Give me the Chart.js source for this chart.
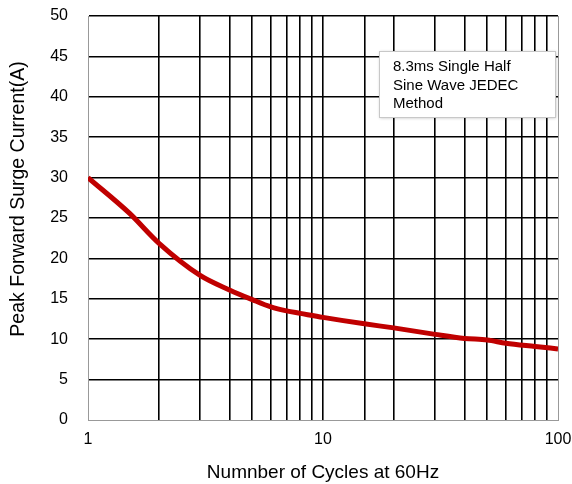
<!DOCTYPE html>
<html>
<head>
<meta charset="utf-8">
<script src="https://cdn.jsdelivr.net/npm/chart.js@4/dist/chart.umd.min.js"></script>
<style>
html,body{margin:0;padding:0;background:#fff;}
#wrap{width:572px;height:484px;}
</style>
</head>
<body>
<div id="wrap"><canvas id="c" width="572" height="484"></canvas></div>
<script>
const cycles = [1, 1.5, 2, 3, 4, 5, 6, 7, 8, 10, 15, 20, 30, 40, 50, 60, 80, 100];
const surge  = [30, 25.6, 21.9, 17.9, 16.1, 14.9, 14.0, 13.5, 13.2, 12.7, 11.9, 11.4, 10.6, 10.1, 9.9, 9.5, 9.1, 8.8];
const yTicks = [0, 5, 10, 15, 20, 25, 30, 35, 40, 45, 50];
const xLabelTicks = [1, 10, 100];
const noteLines = ['8.3ms Single Half', 'Sine Wave JEDEC', 'Method'];
const xTitle = 'Numnber of Cycles at 60Hz';
const yTitle = 'Peak Forward Surge Current(A)';

const FONT = "'Liberation Sans', Arial, sans-serif";

const notePlugin = {
  id: 'note',
  afterDraw(chart) {
    const ctx = chart.ctx;
    const a = chart.chartArea;
    // y-axis title (drawn by hand: the original sits slightly above the plot centre)
    ctx.save();
    ctx.translate(19, (a.top + a.bottom) / 2 - 19);
    ctx.rotate(-Math.PI / 2);
    ctx.fillStyle = '#000';
    ctx.font = '19.5px ' + FONT;
    ctx.textAlign = 'center';
    ctx.textBaseline = 'middle';
    ctx.fillText(yTitle, 0, 0);
    ctx.restore();

    const x = a.right - 179, y = a.top + 35, w = 176, h = 66;
    ctx.save();
    ctx.shadowColor = 'rgba(0,0,0,0.25)';
    ctx.shadowBlur = 3;
    ctx.shadowOffsetX = 1;
    ctx.shadowOffsetY = 1;
    ctx.fillStyle = '#fff';
    ctx.fillRect(x, y, w, h);
    ctx.restore();
    ctx.save();
    ctx.strokeStyle = '#c8c8c8';
    ctx.lineWidth = 1;
    ctx.strokeRect(x + 0.5, y + 0.5, w, h);
    ctx.fillStyle = '#000';
    ctx.font = '15px ' + FONT;
    ctx.textBaseline = 'middle';
    noteLines.forEach((t, i) => ctx.fillText(t, x + 14, y + 16 + i * 18.5));
    ctx.restore();
  }
};

new Chart(document.getElementById('c'), {
  type: 'line',
  data: {
    datasets: [{
      data: cycles.map((c, i) => ({x: c, y: surge[i]})),
      borderColor: '#C00000',
      borderWidth: 5,
      pointRadius: 0,
      fill: false,
      cubicInterpolationMode: 'monotone'
    }]
  },
  options: {
    responsive: false,
    animation: false,
    layout: {padding: {top: 16, right: 14, left: 0, bottom: 0}},
    plugins: {legend: {display: false}, tooltip: {enabled: false}},
    scales: {
      x: {
        type: 'logarithmic',
        min: 1, max: 100,
        afterFit(s) { s.height = 64; s.paddingLeft = 0; s.paddingRight = 0; },
        border: {display: true, color: '#999', width: 1},
        grid: {
          drawTicks: false,
          color: ctx => (ctx.tick && (ctx.tick.value === 1 || ctx.tick.value === 100)) ? '#999' : '#000',
          lineWidth: ctx => (ctx.tick && (ctx.tick.value === 1 || ctx.tick.value === 100)) ? 1 : 1.6
        },
        ticks: {
          autoSkip: false, maxRotation: 0, padding: 10,
          color: '#000',
          font: {family: FONT, size: 16},
          callback: v => xLabelTicks.includes(v) ? String(v) : ''
        },
        title: {
          display: true, text: xTitle, color: '#000',
          font: {family: FONT, size: 19},
          padding: {top: -2, bottom: 0}
        }
      },
      y: {
        min: 0, max: 50,
        afterFit(s) { s.width = 88; s.paddingTop = 0; s.paddingBottom = 0; },
        afterBuildTicks(s) { s.ticks = yTicks.map(v => ({value: v})); },
        border: {display: true, color: '#999', width: 1},
        grid: {
          drawTicks: false,
          color: ctx => (ctx.tick && ctx.tick.value === 0) ? '#999' : '#000',
          lineWidth: ctx => (ctx.tick && ctx.tick.value === 0) ? 1 : 1.6
        },
        ticks: {
          padding: 20, color: '#000',
          font: {family: FONT, size: 16}
        },
        title: {display: false}
      }
    }
  },
  plugins: [notePlugin]
});
</script>
</body>
</html>
